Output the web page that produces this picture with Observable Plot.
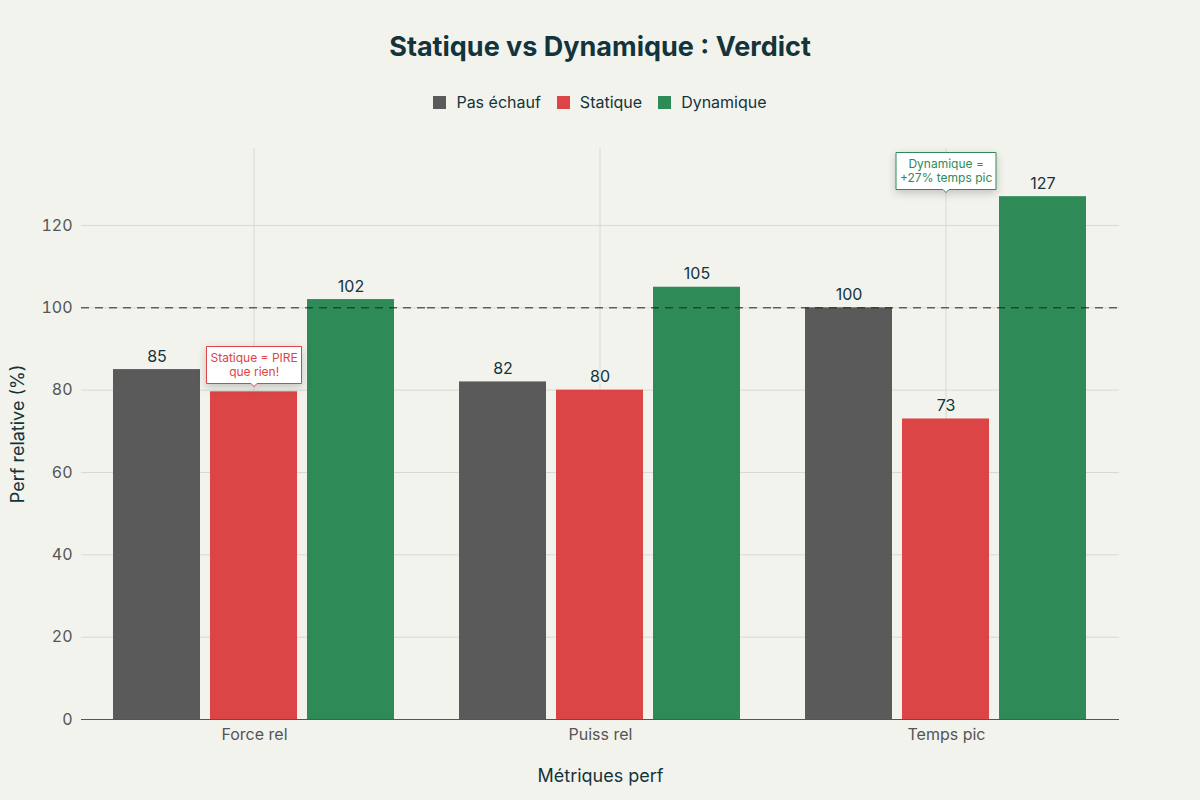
<!DOCTYPE html>
<html><head><meta charset="utf-8">
<script src="https://cdn.jsdelivr.net/npm/d3@7"></script>
<script src="https://cdn.jsdelivr.net/npm/@observablehq/plot@0.6"></script>
<style>
body{margin:0;background:#f3f3ee;font-family:Inter,"Noto Sans",sans-serif;}
#head{height:130px;position:relative;}
#title{position:absolute;top:30px;width:100%;text-align:center;font-size:27px;font-weight:700;color:#13343b;}
#legend{position:absolute;top:92px;width:100%;text-align:center;font-size:16px;color:#13343b;}
#legend span{margin:0 8px;}
#legend i{display:inline-block;width:13px;height:13px;margin-right:10px;vertical-align:-1px;}
</style></head><body>
<div id="head"><div id="title">Statique vs Dynamique : Verdict</div><div id="legend"></div></div>
<div id="chart"></div>
<script>
const metrics = ["Force rel","Puiss rel","Temps pic"];
const series = ["Pas échauf","Statique","Dynamique"];
const colors = ["#5a5a5a","#db4545","#2e8b57"];
const pasEchauf = [85,82,100];
const statique = [79.6,80,73];
const dynamique = [102,105,127];
const labels = [["85","82","100"],["80","80","73"],["102","105","127"]];
const vals=[pasEchauf,statique,dynamique];
const data=[];
series.forEach((s,i)=>metrics.forEach((m,j)=>data.push({metric:m,series:s,value:vals[i][j],label:labels[i][j]})));
const noteRed=[{metric:"Force rel",series:"Statique",value:80,text:"Statique = PIRE\nque rien!"}];
const noteGreen=[{metric:"Temps pic",series:"Statique",value:127,text:"Dynamique =\n+27% temps pic"}];
document.getElementById("legend").innerHTML=series.map((s,i)=>`<span><i style="background:${colors[i]}"></i>${s}</span>`).join("");
const tipOpts=(c)=>({fx:"metric",x:"series",y:"value",title:"text",anchor:"bottom",dy:-4,fill:"white",stroke:c,textAnchor:"middle",textPadding:4,fontSize:12,lineHeight:1.2,pointerSize:6});
const plot=Plot.plot({
 width:1200,height:670,marginTop:18,marginBottom:81,marginLeft:80,marginRight:80,
 style:{background:"transparent",fontFamily:"Inter, sans-serif",fontSize:"16px",color:"#555"},
 fx:{domain:metrics,padding:0,label:"Métriques perf",labelAnchor:"center",labelArrow:"none",tickSize:0,labelOffset:62},
 x:{domain:series,padding:0.1,paddingOuter:0.32,axis:null},
 y:{domain:[0,138.7],ticks:[0,20,40,60,80,100,120],grid:false,label:"Perf relative (%)",labelAnchor:"center",labelArrow:"none",tickSize:0,labelOffset:70},
 color:{domain:series,range:colors},
 marks:[
  Plot.gridY([20,40,60,80,100,120],{stroke:"#d8d8d4",strokeOpacity:1}),
  Plot.ruleX(metrics,{fx:d=>d,x:()=>"Statique",stroke:"#d8d8d4"}),
  Plot.barY(data,{fx:"metric",x:"series",y:"value",fill:"series"}),
  Plot.ruleY([100],{stroke:"#222",strokeDasharray:"8,6"}),
  Plot.ruleY([0],{stroke:"#555"}),
  Plot.text(data,{fx:"metric",x:"series",y:"value",text:"label",dy:-13,fill:"#13343b",fontSize:16}),
  Plot.tip(noteRed,tipOpts("#db4545")),
  Plot.tip(noteGreen,tipOpts("#2e8b57")),
 ]
});
document.getElementById("chart").appendChild(plot);
const tips=plot.querySelectorAll('g[aria-label="tip"]');
tips.forEach((g,i)=>{const c=i===0?"#db4545":"#2e8b57";g.querySelectorAll("text").forEach(t=>t.setAttribute("fill",c));});
plot.querySelectorAll('g[aria-label="fx-axis label"] text, g[aria-label="y-axis label"] text').forEach(t=>{t.setAttribute("fill","#13343b");t.style.fontSize="18px";});
</script></body></html>
